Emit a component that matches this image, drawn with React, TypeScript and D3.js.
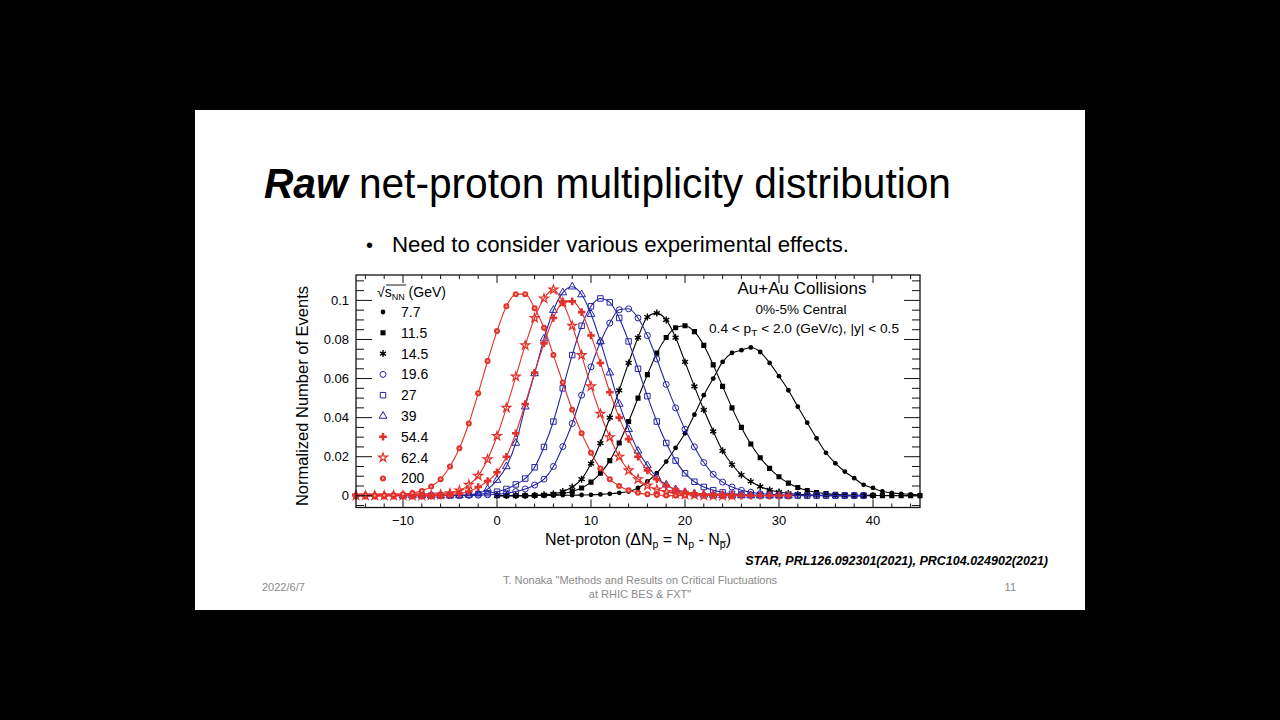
import React from "react";
import * as d3 from "d3";

// collision energies (GeV) in legend order
const energies = ["7.7", "11.5", "14.5", "19.6", "27", "39", "54.4", "62.4", "200"];

// net-proton distributions, one value per integer bin starting at the given net-proton
const start77 = 0;
const dist77 = [0.0001, 0.0001, 0.0001, 0.0001, 0.0001, 0.0002, 0.0002, 0.0003, 0.0003, 0.0004, 0.0005, 0.0007, 0.001,
  0.0015, 0.0022, 0.004, 0.0073, 0.0116, 0.0175, 0.0245, 0.032, 0.0415, 0.0515, 0.06, 0.0685, 0.0731, 0.0745,
  0.0759, 0.0736, 0.068, 0.0612, 0.054, 0.0456, 0.0374, 0.0294, 0.022, 0.0166, 0.0124, 0.009, 0.0056, 0.004,
  0.0022, 0.0015, 0.001, 0.0007, 0.0005];

const start115 = 0;
const dist115 = [0.0001, 0.0001, 0.0001, 0.0001, 0.0002, 0.0003, 0.0006, 0.0012, 0.0022, 0.004, 0.007, 0.0115,
  0.018, 0.027, 0.038, 0.05, 0.062, 0.073, 0.081, 0.086, 0.087, 0.084, 0.077, 0.067, 0.056, 0.045, 0.035, 0.0265,
  0.0195, 0.014, 0.0097, 0.0065, 0.0042, 0.0027, 0.0017, 0.0011, 0.0007, 0.0005, 0.0003, 0.0002, 0.0002, 0.0001,
  0.0001, 0.0001, 0.0001, 0.0001];

const start145 = 0;
const dist145 = [0.0001, 0.0001, 0.0001, 0.0001, 0.0002, 0.0005, 0.001, 0.0022, 0.0045, 0.0085, 0.0165, 0.027,
  0.04, 0.054, 0.068, 0.081, 0.0915, 0.0935, 0.09, 0.081, 0.0685, 0.056, 0.044, 0.033, 0.023, 0.016, 0.0107,
  0.0073, 0.0047, 0.003, 0.0019, 0.0012, 0.0008, 0.0005, 0.0003, 0.0002, 0.0001, 0.0001, 0.0001, 0.0001, 0.0001];

const start196 = -5;
const dist196 = [0.0001, 0.0001, 0.0002, 0.0003, 0.0005, 0.0008, 0.0013, 0.0022, 0.0035, 0.0055, 0.0085, 0.015,
  0.0252, 0.037, 0.0515, 0.066, 0.0787, 0.0884, 0.0952, 0.0957, 0.091, 0.082, 0.07, 0.057, 0.045, 0.034, 0.025,
  0.017, 0.011, 0.007, 0.0045, 0.0028, 0.0018, 0.0011, 0.0007, 0.0005, 0.0004, 0.0003, 0.0002, 0.0002, 0.0001,
  0.0001, 0.0001, 0.0001, 0.0001];

const start27 = -8;
const dist27 = [0.0001, 0.0001, 0.0001, 0.0002, 0.0003, 0.0005, 0.0008, 0.0013, 0.0021, 0.0035, 0.0058, 0.0088,
  0.0146, 0.025, 0.038, 0.055, 0.072, 0.087, 0.097, 0.101, 0.099, 0.091, 0.079, 0.065, 0.051, 0.038, 0.027, 0.018,
  0.0115, 0.0072, 0.0045, 0.0028, 0.0017, 0.001, 0.0006, 0.0004, 0.0003, 0.0002, 0.0002, 0.0001, 0.0001, 0.0001,
  0.0001, 0.0001, 0.0001, 0.0001, 0.0001, 0.0001];

const start39 = -10;
const dist39 = [0.0001, 0.0001, 0.0001, 0.0001, 0.0001, 0.0002, 0.0002, 0.0005, 0.0013, 0.0034, 0.008, 0.015,
  0.027, 0.0456, 0.0626, 0.0804, 0.095, 0.104, 0.107, 0.103, 0.093, 0.079, 0.063, 0.047, 0.034, 0.023, 0.0155,
  0.0095, 0.0056, 0.0032, 0.0018, 0.001, 0.0005, 0.0003, 0.0002, 0.0001, 0.0001, 0.0001, 0.0001, 0.0001, 0.0001,
  0.0001];

const start544 = -15;
const dist544 = [0.0001, 0.0001, 0.0001, 0.0001, 0.0001, 0.0001, 0.0001, 0.0001, 0.0001, 0.0002, 0.0005, 0.0011,
  0.0022, 0.0045, 0.0075, 0.012, 0.02, 0.032, 0.047, 0.063, 0.078, 0.091, 0.099, 0.0995, 0.094, 0.082, 0.068,
  0.053, 0.04, 0.029, 0.02, 0.013, 0.0085, 0.0053, 0.0032, 0.0019, 0.0011, 0.0006, 0.0004, 0.0002, 0.0002, 0.0001,
  0.0001, 0.0001, 0.0001, 0.0001, 0.0001];

const start624 = -15;
const dist624 = [0.0001, 0.0001, 0.0001, 0.0001, 0.0001, 0.0001, 0.0001, 0.0001, 0.0003, 0.0006, 0.0013, 0.0027,
  0.0056, 0.0102, 0.0187, 0.0306, 0.045, 0.061, 0.077, 0.091, 0.101, 0.1055, 0.099, 0.087, 0.072, 0.056, 0.042,
  0.03, 0.02, 0.013, 0.0085, 0.0052, 0.0032, 0.0019, 0.0011, 0.0006, 0.0004, 0.0002, 0.0001, 0.0001, 0.0001];

const start200 = -15;
const dist200 = [0.0001, 0.0001, 0.0001, 0.0002, 0.0004, 0.0008, 0.0014, 0.0025, 0.0047, 0.0085, 0.015, 0.0243,
  0.037, 0.0525, 0.069, 0.0843, 0.097, 0.1032, 0.1032, 0.096, 0.086, 0.072, 0.058, 0.044, 0.032, 0.022, 0.014,
  0.0085, 0.005, 0.0028, 0.0015, 0.0008, 0.0004, 0.0002, 0.0001, 0.0001];

const xTicks = [-10, 0, 10, 20, 30, 40];
const yTicks = [0, 0.02, 0.04, 0.06, 0.08, 0.1];

const BLACK = "#000000";
const BLUE = "#2424a6";
const RED = "#e2302a";

type Mark = "dot" | "square" | "asterisk" | "ocircle" | "osquare" | "otriangle" | "cross" | "ostar" | "rosette";

const series = [
  { label: energies[0], start: start77, values: dist77, color: BLACK, mark: "dot" as Mark },
  { label: energies[1], start: start115, values: dist115, color: BLACK, mark: "square" as Mark },
  { label: energies[2], start: start145, values: dist145, color: BLACK, mark: "asterisk" as Mark },
  { label: energies[3], start: start196, values: dist196, color: BLUE, mark: "ocircle" as Mark },
  { label: energies[4], start: start27, values: dist27, color: BLUE, mark: "osquare" as Mark },
  { label: energies[5], start: start39, values: dist39, color: BLUE, mark: "otriangle" as Mark },
  { label: energies[6], start: start544, values: dist544, color: RED, mark: "cross" as Mark },
  { label: energies[7], start: start624, values: dist624, color: RED, mark: "ostar" as Mark },
  { label: energies[8], start: start200, values: dist200, color: RED, mark: "rosette" as Mark },
];

const FONT = "'Liberation Sans', Arial, Helvetica, sans-serif";

const L = 356, R = 920, T = 275, B = 507.5;
const x = d3.scaleLinear().domain([-15, 45]).range([L, R]);
const y = d3.scaleLinear().domain([-0.006, 0.113]).range([B, T]);

function Marker({ mark, color, cx, cy }: { mark: Mark; color: string; cx: number; cy: number }) {
  const tr = `translate(${cx},${cy})`;
  switch (mark) {
    case "dot":
      return <circle cx={cx} cy={cy} r={2.4} fill={color} />;
    case "square":
      return <path transform={tr} d={d3.symbol(d3.symbolSquare, 26)()!} fill={color} />;
    case "asterisk":
      return <path transform={tr} d={d3.symbol(d3.symbolAsterisk, 34)()!} fill="none" stroke={color} strokeWidth={1.4} />;
    case "ocircle":
      return <circle cx={cx} cy={cy} r={3} fill="none" stroke={color} strokeWidth={1} />;
    case "osquare":
      return <path transform={tr} d={d3.symbol(d3.symbolSquare, 30)()!} fill="none" stroke={color} strokeWidth={1} />;
    case "otriangle":
      return <path transform={tr} d={d3.symbol(d3.symbolTriangle, 26)()!} fill="none" stroke={color} strokeWidth={1} />;
    case "cross":
      return <path transform={tr} d={d3.symbol(d3.symbolCross, 32)()!} fill={color} />;
    case "ostar":
      return <path transform={tr} d={d3.symbol(d3.symbolStar, 24)()!} fill="none" stroke={color} strokeWidth={1.2} />;
    case "rosette":
      return (
        <g>
          <circle cx={cx} cy={cy} r={3} fill={color} />
          <circle cx={cx} cy={cy} r={1.1} fill="#f7b0a8" />
        </g>
      );
  }
}

export default function App() {
  const lineGen = d3
    .line<[number, number]>()
    .x((d) => x(d[0]))
    .y((d) => y(d[1]))
    .curve(d3.curveMonotoneX);

  const xMinor = d3.range(-14, 45, 2).filter((v) => v % 10 !== 0);
  const yMinor = d3.range(-0.005, 0.1126, 0.005).filter((v) => Math.abs(Math.round(v * 50) - v * 50) > 1e-6);

  const legendY = (i: number) => 312 + i * 20.8;

  return (
    <svg width={1280} height={720} style={{ position: "absolute", left: 0, top: 0 }} fontFamily={FONT}>
      <rect width={1280} height={720} fill="#000" />
      <rect x={195} y={110} width={890} height={500} fill="#fff" />

      {/* slide title and bullet */}
      <text x={264} y={198} fontSize={43} fill="#000" textLength={687} lengthAdjust="spacingAndGlyphs">
        <tspan fontWeight="bold" fontStyle="italic">Raw</tspan>
        <tspan> net-proton multiplicity distribution</tspan>
      </text>
      <text x={366} y={252} fontSize={20} fill="#000">•</text>
      <text x={392} y={252} fontSize={21.5} fill="#000" textLength={457} lengthAdjust="spacingAndGlyphs">
        Need to consider various experimental effects.
      </text>

      {/* curves and markers */}
      <defs>
        <clipPath id="plotclip">
          <rect x={L - 4} y={T} width={R - L + 8} height={B - T} />
        </clipPath>
      </defs>
      <g clipPath="url(#plotclip)">
        {series.map((s) => {
          const pts: [number, number][] = s.values.map((v, i) => [s.start + i, v]);
          return (
            <g key={s.label}>
              <path d={lineGen(pts)!} fill="none" stroke={s.color} strokeWidth={1.1} />
              {pts.map((p, i) => (
                <Marker key={i} mark={s.mark} color={s.color} cx={x(p[0])} cy={y(p[1])} />
              ))}
            </g>
          );
        })}
      </g>

      {/* frame and ticks */}
      <rect x={L} y={T} width={R - L} height={B - T} fill="none" stroke="#111" strokeWidth={1.3} />
      {xTicks.map((t) => (
        <g key={"xt" + t}>
          <line x1={x(t)} x2={x(t)} y1={B} y2={B - 8} stroke="#111" />
          <line x1={x(t)} x2={x(t)} y1={T} y2={T + 8} stroke="#111" />
          <text x={x(t)} y={525} fontSize={13} textAnchor="middle">{t < 0 ? "\u2212" + Math.abs(t) : t}</text>
        </g>
      ))}
      {xMinor.map((t) => (
        <g key={"xm" + t}>
          <line x1={x(t)} x2={x(t)} y1={B} y2={B - 4} stroke="#111" />
          <line x1={x(t)} x2={x(t)} y1={T} y2={T + 4} stroke="#111" />
        </g>
      ))}
      {yTicks.map((t) => (
        <g key={"yt" + t}>
          <line x1={L} x2={L + 16} y1={y(t)} y2={y(t)} stroke="#111" />
          <line x1={R} x2={R - 16} y1={y(t)} y2={y(t)} stroke="#111" />
          <text x={349} y={y(t) + 4.5} fontSize={13} textAnchor="end">{t === 0 ? "0" : String(+t.toFixed(2))}</text>
        </g>
      ))}
      {yMinor.map((t) => (
        <g key={"ym" + t}>
          <line x1={L} x2={L + 8} y1={y(t)} y2={y(t)} stroke="#111" />
          <line x1={R} x2={R - 8} y1={y(t)} y2={y(t)} stroke="#111" />
        </g>
      ))}

      {/* axis titles */}
      <text transform="translate(308,396) rotate(-90)" fontSize={16.5} textAnchor="middle">Normalized Number of Events</text>
      <text x={638} y={545} fontSize={16} textAnchor="middle">
        Net-proton (ΔN<tspan fontSize={10.5} dy={3}>p</tspan>
        <tspan dy={-3}> = N</tspan><tspan fontSize={10.5} dy={3}>p</tspan>
        <tspan dy={-3}> - N</tspan><tspan fontSize={10.5} dy={3}>p̅</tspan>
        <tspan dy={-3}>)</tspan>
      </text>

      {/* legend */}
      <g fontSize={14}>
        <text x={377} y={297}>
          √<tspan fontSize={14}>s</tspan><tspan fontSize={9} dy={3}>NN</tspan>
          <tspan dy={-3}> (GeV)</tspan>
        </text>
        <line x1={386} x2={406} y1={285} y2={285} stroke="#000" strokeWidth={0.9} />
        {series.map((s, i) => (
          <g key={"lg" + s.label}>
            <Marker mark={s.mark} color={s.color} cx={383} cy={legendY(i)} />
            <text x={401} y={legendY(i) + 5}>{s.label}</text>
          </g>
        ))}
      </g>

      {/* annotations */}
      <text x={802} y={294} fontSize={17} textAnchor="middle">Au+Au Collisions</text>
      <text x={801} y={314} fontSize={13.5} textAnchor="middle">0%-5% Central</text>
      <text x={709} y={333} fontSize={13} textLength={190} lengthAdjust="spacingAndGlyphs">
        0.4 &lt; p<tspan fontSize={9.5} dy={3}>T</tspan><tspan dy={-3}> &lt; 2.0 (GeV/c), |y|  &lt;  0.5</tspan>
      </text>

      <text x={1048} y={565} fontSize={12.5} fontWeight="bold" fontStyle="italic" textAnchor="end">
        STAR, PRL126.092301(2021), PRC104.024902(2021)
      </text>

      {/* footer */}
      <g fill="#8a8a8a" fontSize={11}>
        <text x={262} y={591}>2022/6/7</text>
        <text x={640} y={584} textAnchor="middle">T. Nonaka  "Methods and Results on Critical Fluctuations</text>
        <text x={640} y={598} textAnchor="middle">at RHIC BES &amp; FXT"</text>
        <text x={1016} y={591} textAnchor="end">11</text>
      </g>
    </svg>
  );
}
